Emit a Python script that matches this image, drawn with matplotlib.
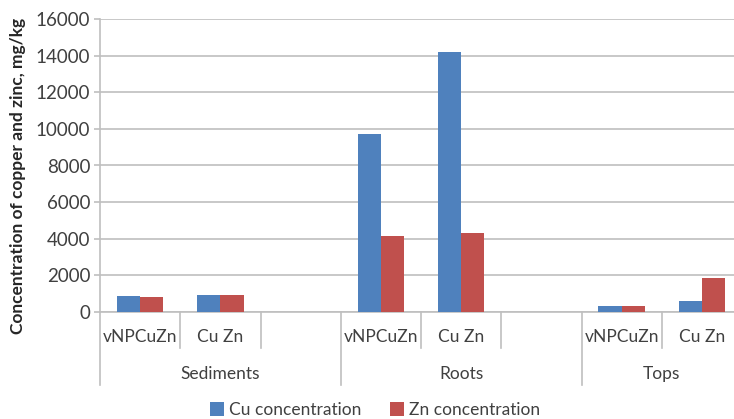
import matplotlib
matplotlib.use("Agg")
import matplotlib.pyplot as plt
import numpy as np

plt.rcParams['font.family'] = ['Lato', 'DejaVu Sans']

groups = ["Sediments", "Roots", "Tops"]
group_slots = [3, 3, 2]
sub_labels = ["vNPCuZn", "Cu Zn", "", "vNPCuZn", "Cu Zn", "", "vNPCuZn", "Cu Zn"]
cu_values = [880, 930, np.nan, 9700, 14200, np.nan, 330, 600]
zn_values = [800, 950, np.nan, 4150, 4300, np.nan, 330, 1850]
series_names = ["Cu concentration", "Zn concentration"]
yticks = [0, 2000, 4000, 6000, 8000, 10000, 12000, 14000, 16000]

text_col = "#404040"
grid_col = "#BFBFBF"

fig = plt.figure(figsize=(7.34, 4.19), dpi=100)
ax = fig.add_axes([100/734, 107/419, 642/734, 293/419])

x = np.arange(len(sub_labels))
w = 0.29
ax.bar(x - w/2, cu_values, w, color="#4F81BD", label=series_names[0], zorder=3)
ax.bar(x + w/2, zn_values, w, color="#C0504D", label=series_names[1], zorder=3)

ax.set_xlim(-0.5, len(sub_labels) - 0.5)
ax.set_ylim(0, 16000)
ax.set_yticks(yticks)
ax.set_yticklabels([str(v) for v in yticks], fontsize=13.5, color=text_col)
ax.yaxis.grid(True, color=grid_col, linewidth=1.2, zorder=0)
ax.set_axisbelow(True)
ax.tick_params(axis='y', length=4, color=grid_col, width=1.2, pad=3)
ax.set_xticks([])
for s in ["top", "right"]:
    ax.spines[s].set_visible(False)
ax.spines["left"].set_color(grid_col)
ax.spines["left"].set_linewidth(1.2)
ax.spines["bottom"].set_color(grid_col)
ax.spines["bottom"].set_linewidth(1.2)

trans = ax.get_xaxis_transform()
boundaries = np.cumsum([0] + group_slots) - 0.5
short_y = -36/293
long_y = -73/293
for b in boundaries:
    ax.plot([b, b], [0, long_y], transform=trans, color=grid_col, lw=1.2, clip_on=False)
start = 0
for g, n in zip(groups, group_slots):
    for k in range(1, n):
        xb = start + k - 0.5
        ax.plot([xb, xb], [0, short_y], transform=trans, color=grid_col, lw=1.2, clip_on=False)
    ax.text(start + (n - 1) / 2, -62/293, g, transform=trans, ha="center", va="center",
            fontsize=12.5, color=text_col)
    start += n
for xi, lab in zip(x, sub_labels):
    if lab:
        ax.text(xi, -25/293, lab, transform=trans, ha="center", va="center",
                fontsize=12.5, color=text_col)

fig.text(18/734, (419 - 176)/419, "Concentration of copper and zinc, mg/kg",
         rotation=90, ha="center", va="center", fontsize=12.5, fontweight="bold",
         color="#262626")

fig.legend(loc="center", bbox_to_anchor=(375/734, 9/419), ncol=2, frameon=False,
           fontsize=12.5, handlelength=0.8, handleheight=0.8, handletextpad=0.3,
           columnspacing=1.65, labelcolor=text_col)

fig.savefig("out.png", dpi=100)
